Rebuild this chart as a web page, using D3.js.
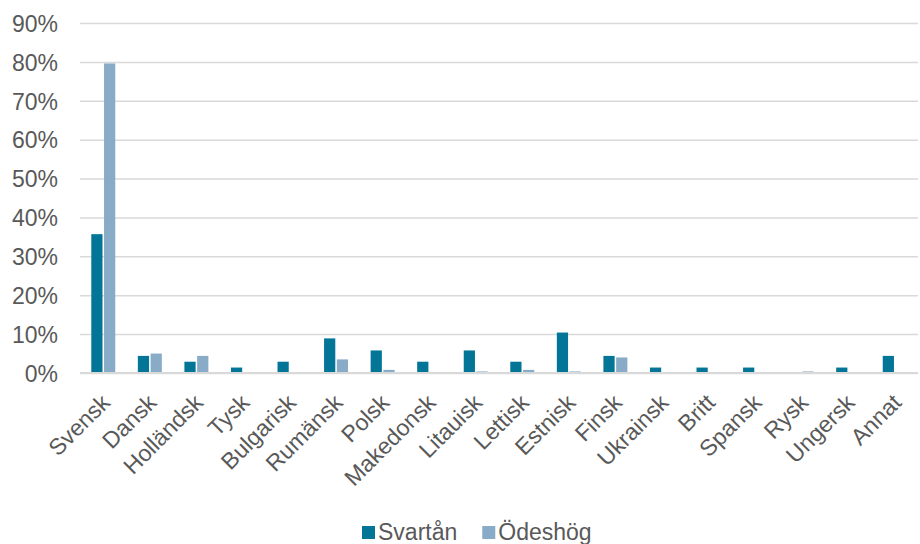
<!DOCTYPE html>
<html>
<head>
<meta charset="utf-8">
<script src="https://cdn.jsdelivr.net/npm/d3@7"></script>
<style>
  html, body { margin: 0; padding: 0; background: #ffffff; }
  svg { display: block; font-family: "Liberation Sans", Arial, sans-serif; }
</style>
</head>
<body>
<svg id="chart" width="920" height="544"></svg>
<script>
// Languages spoken, share of respondents per area
const categories = ["Svensk", "Dansk", "Holländsk", "Tysk", "Bulgarisk", "Rumänsk", "Polsk",
  "Makedonsk", "Litauisk", "Lettisk", "Estnisk", "Finsk", "Ukrainsk", "Britt", "Spansk",
  "Rysk", "Ungersk", "Annat"];
const seriesNames = ["Svartån", "Ödeshög"];
const svartan = [35.7, 4.4, 2.9, 1.4, 2.9, 8.9, 5.8, 2.9, 5.8, 2.9, 10.4, 4.4, 1.4, 1.4, 1.4, 0, 1.4, 4.4];
const odeshog = [79.6, 5.0, 4.4, 0, 0, 3.5, 0.8, 0, 0.4, 0.8, 0.4, 4.0, 0, 0, 0, 0.4, 0, 0];
const yTicks = [0, 10, 20, 30, 40, 50, 60, 70, 80, 90];
const colors = ["#037597", "#88abc7"];

const svg = d3.select("#chart");
const margin = { left: 80, right: 2, top: 23, bottom: 171 };
const W = 920, H = 544;
const textColor = "#595959";
const gridColor = "#d9d9d9";
const fontSize = "23px";

const x0 = d3.scaleBand().domain(categories).range([margin.left, W - margin.right]).paddingInner(0.485).paddingOuter(0.2425);
const x1 = d3.scaleBand().domain(seriesNames).range([0, x0.bandwidth()]).paddingInner(0.12);
const y = d3.scaleLinear().domain([0, 90]).range([H - margin.bottom, margin.top]);

// Gridlines and y labels
const yAxis = d3.axisLeft(y).tickValues(yTicks).tickFormat(d => d + "%").tickSize(-(W - margin.right - margin.left)).tickPadding(22);
const gy = svg.append("g").attr("transform", `translate(${margin.left},0)`).call(yAxis);
gy.select(".domain").remove();
gy.selectAll(".tick line").attr("stroke", gridColor).attr("stroke-width", 1.5);
gy.selectAll(".tick text").attr("fill", textColor).style("font-size", fontSize).attr("dy", "0.36em");

// Bars
const data = categories.map((c, i) => ({ cat: c, vals: [svartan[i], odeshog[i]] }));
const groups = svg.append("g").selectAll("g").data(data).join("g")
  .attr("transform", d => `translate(${x0(d.cat)},0)`);
groups.selectAll("rect").data(d => d.vals.map((v, k) => ({ key: seriesNames[k], v, k })))
  .join("rect")
  .attr("x", d => x1(d.key))
  .attr("width", x1.bandwidth())
  .attr("y", d => y(d.v))
  .attr("height", d => y(0) - y(d.v))
  .attr("fill", d => colors[d.k]);

// Baseline
svg.append("line").attr("x1", margin.left).attr("x2", W - margin.right)
  .attr("y1", y(0)).attr("y2", y(0)).attr("stroke", gridColor).attr("stroke-width", 2);

// Category labels, rotated
const xAxis = d3.axisBottom(x0).tickSize(0).tickPadding(0);
const gx = svg.append("g").attr("transform", `translate(0,${y(0)})`).call(xAxis);
gx.select(".domain").remove();
gx.selectAll(".tick text")
  .attr("fill", textColor)
  .style("font-size", fontSize)
  .attr("text-anchor", "end")
  .attr("y", 0).attr("dy", 0)
  .attr("transform", "translate(8,31) rotate(-45)");

// Legend
const legend = svg.append("g").attr("transform", "translate(362,526)");
let lx = 0;
seriesNames.forEach((name, k) => {
  legend.append("rect").attr("x", lx).attr("y", 0).attr("width", 13).attr("height", 13).attr("fill", colors[k]);
  const t = legend.append("text").attr("x", lx + 16).attr("y", 14).attr("fill", textColor)
    .style("font-size", fontSize).text(name);
  lx += 16 + t.node().getComputedTextLength() + 25;
});
</script>
</body>
</html>
